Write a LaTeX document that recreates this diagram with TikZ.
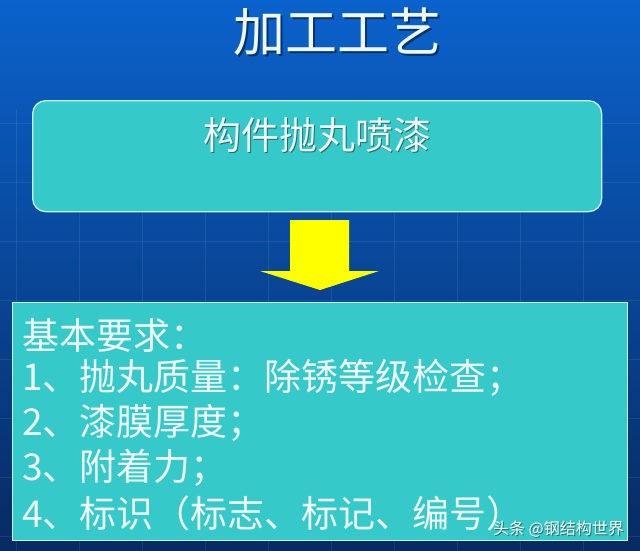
\documentclass[tikz,border=0pt]{standalone}
\usepackage{fontspec}
\newfontfamily\cjk{Noto Sans CJK SC}
\usetikzlibrary{positioning}

\definecolor{bgtop}{HTML}{0A62CC}
\definecolor{bgmid}{HTML}{0B4DAA}
\definecolor{bgbot}{HTML}{082A62}
\definecolor{boxfill}{HTML}{36C9C9}
\definecolor{boxline}{HTML}{C8F4F4}
\definecolor{txtlight}{HTML}{EEF8F6}
\definecolor{arrowyellow}{HTML}{FFFF00}

\begin{document}
\begin{tikzpicture}[x=1pt,y=-1pt,
    every node/.append style={font=\cjk,text=txtlight,inner sep=0pt},
    panel/.style={draw=boxline,line width=1.3pt,fill=boxfill,anchor=north west},
    shadowtxt/.style={text=black,opacity=0.45},
    reqline/.style={anchor=west,font=\cjk\fontsize{37}{37}\selectfont}]

    \useasboundingbox (0,0) rectangle (640,551);
    \shade[top color=bgtop,middle color=bgmid,bottom color=bgbot] (0,0) rectangle (640,551);
    % faint grid behind the boxes
    \foreach \gx in {16,79,...,640} \draw[white,opacity=0.08] (\gx,110) -- (\gx,551);
    \foreach \gy in {123,182,...,551} \draw[white,opacity=0.08] (0,\gy) -- (640,\gy);

    \node[shadowtxt,font=\cjk\fontsize{52}{52}\selectfont] (title shadow) at (339,34) {加工工艺};
    \node[font=\cjk\fontsize{52}{52}\selectfont] (title) at (337,32) {加工工艺};

    \node[panel,rounded corners=13pt,minimum width=569pt,minimum height=111pt] (procbox) at (32,100) {};
    \node[shadowtxt,font=\cjk\fontsize{38}{38}\selectfont] (proc shadow) at (318.5,136.5) {构件抛丸喷漆};
    \node[font=\cjk\fontsize{38}{38}\selectfont] (proc) at (317,135) {构件抛丸喷漆};

    % yellow block arrow
    \fill[arrowyellow] (290,220) -- (349,220) -- (349,271) -- (379,271)
        -- (320,290) -- (260,271) -- (290,271) -- cycle;

    \node[panel,minimum width=615pt,minimum height=238pt] (reqbox) at (12,302) {};
    \node[reqline] (req0) at (22,335) {基本要求：};
    \node[reqline] (req1) at (22,378) {1、抛丸质量：除锈等级检查；};
    \node[reqline] (req2) at (22,423) {2、漆膜厚度；};
    \node[reqline] (req3) at (22,468) {3、附着力；};
    \node[reqline] (req4) at (22,513) {4、标识（标志、标记、编号）};

    \node[shadowtxt,anchor=east,font=\cjk\fontsize{16}{16}\selectfont] (mark shadow) at (625,530) {头条 @钢结构世界};
    \node[anchor=east,text=white,font=\cjk\fontsize{16}{16}\selectfont] (mark) at (624,529) {头条 @钢结构世界};
\end{tikzpicture}
\end{document}
